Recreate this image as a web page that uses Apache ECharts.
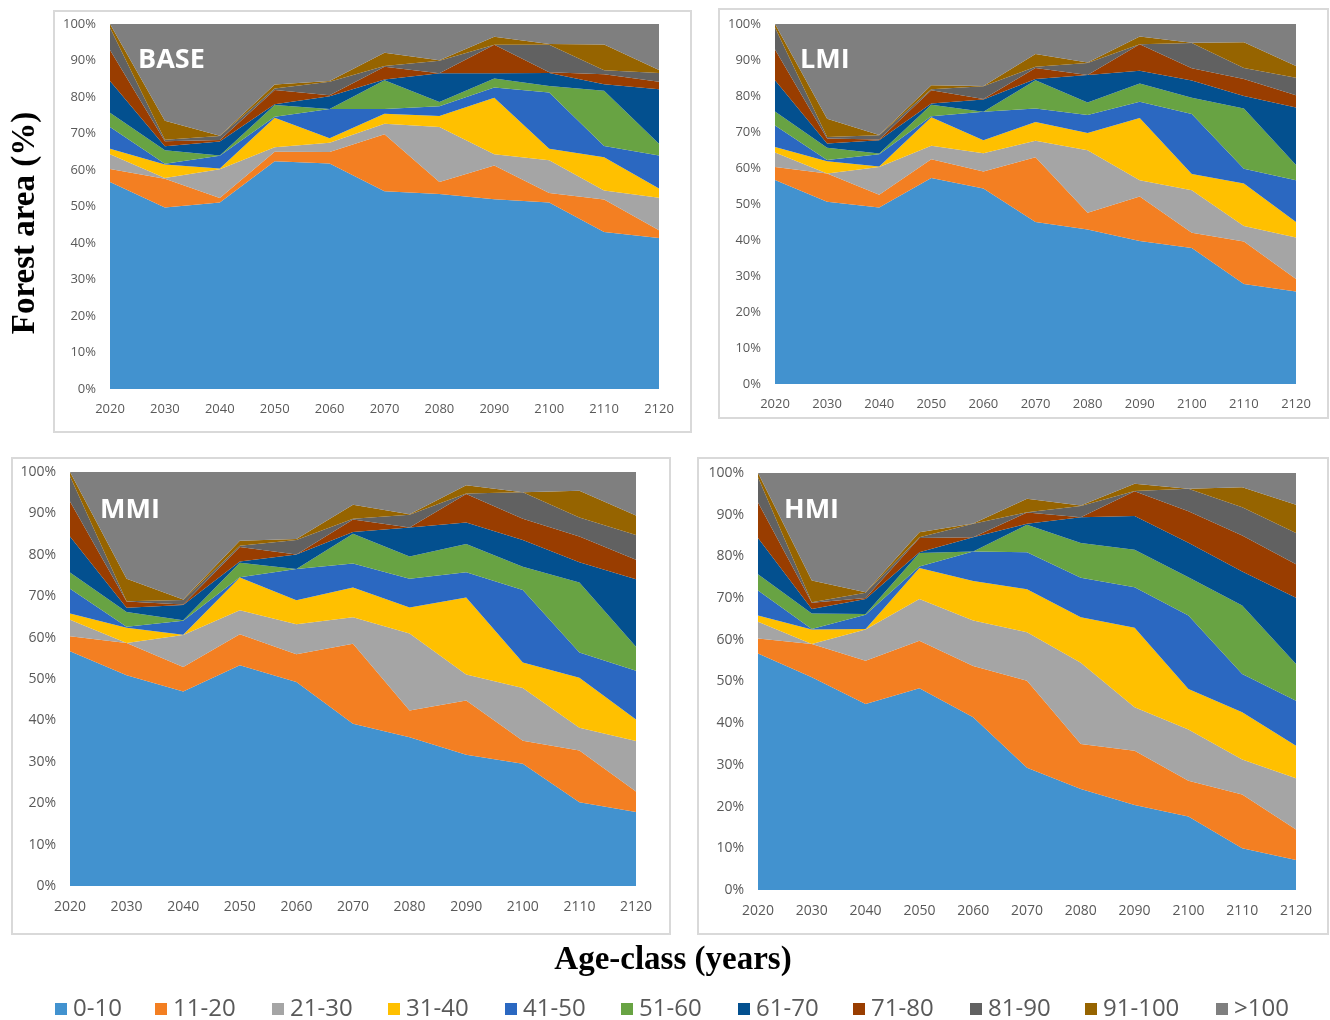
<!DOCTYPE html>
<html>
<head>
<meta charset="utf-8">
<script src="https://cdn.jsdelivr.net/npm/echarts@6/dist/echarts.min.js"></script>
<style>
html,body{margin:0;padding:0;background:#fff;}
#chart{width:1330px;height:1020px;}
</style>
</head>
<body>
<div id="chart"></div>
<script>
// ---------- data ----------
const years = ['2020','2030','2040','2050','2060','2070','2080','2090','2100','2110','2120'];
const classes = ['0-10','11-20','21-30','31-40','41-50','51-60','61-70','71-80','81-90','91-100','>100'];
const scenarios = ['BASE','LMI','MMI','HMI'];
const yTicks = ['0%','10%','20%','30%','40%','50%','60%','70%','80%','90%','100%'];

// share of forest area (%) per age class (rows follow `classes`), per year
const baseData = [
  [56.7, 49.7, 51.1, 62.4, 61.8, 54.2, 53.4, 52.0, 51.1, 43.0, 41.4],
  [3.6, 7.9, 1.2, 2.6, 3.1, 15.6, 3.3, 9.2, 2.6, 8.9, 2.1],
  [4.0, 0.2, 7.9, 1.2, 2.6, 2.9, 15.1, 3.1, 9.0, 2.5, 8.9],
  [1.5, 3.7, 0.2, 8.1, 1.2, 2.7, 3.0, 15.5, 3.1, 9.1, 2.5],
  [6.0, 0.2, 3.5, 0.3, 8.0, 1.3, 2.7, 2.8, 15.4, 3.1, 9.1],
  [3.9, 3.7, 0.1, 3.2, 0.0, 7.9, 1.1, 2.5, 1.8, 15.1, 3.2],
  [8.7, 1.1, 3.8, 0.2, 3.5, 0.2, 7.9, 1.4, 3.6, 1.8, 14.9],
  [8.5, 1.4, 0.4, 3.9, 0.3, 3.5, 0.0, 7.8, 0.2, 2.7, 2.1],
  [6.1, 0.4, 1.1, 0.4, 3.7, 0.2, 3.4, 0.0, 7.5, 1.1, 2.4],
  [1.0, 5.2, 0.1, 1.1, 0.2, 3.6, 0.2, 2.2, 0.2, 7.1, 0.8],
  [0.0, 26.5, 30.6, 16.6, 15.6, 7.9, 9.9, 3.5, 5.5, 5.6, 12.6]
];
const lmiData = [
  [56.7, 50.6, 49.0, 57.2, 54.3, 45.0, 42.9, 39.7, 37.8, 27.8, 25.7],
  [3.6, 7.9, 3.6, 5.2, 4.7, 18.0, 4.7, 12.4, 4.2, 11.8, 3.5],
  [4.0, 0.0, 7.7, 3.8, 5.1, 4.6, 17.3, 4.5, 11.8, 4.3, 11.5],
  [1.5, 3.4, 0.1, 7.9, 3.6, 5.2, 4.8, 17.3, 4.5, 11.8, 4.3],
  [6.0, 0.3, 3.4, 0.3, 7.9, 3.7, 5.0, 4.5, 16.7, 4.1, 11.6],
  [3.9, 3.4, 0.2, 3.2, 0.0, 7.9, 3.5, 5.1, 4.5, 16.7, 4.2],
  [8.7, 1.2, 3.7, 0.3, 3.4, 0.3, 7.6, 3.5, 4.8, 3.5, 16.0],
  [8.5, 1.4, 0.2, 3.7, 0.2, 3.1, 0.0, 7.4, 3.4, 4.7, 3.4],
  [6.1, 0.4, 1.2, 0.3, 3.5, 0.3, 3.4, 0.0, 7.0, 3.1, 4.9],
  [1.0, 5.1, 0.1, 1.1, 0.1, 3.6, 0.1, 2.1, 0.1, 7.1, 3.2],
  [0.0, 26.3, 30.8, 17.0, 17.2, 8.3, 10.7, 3.5, 5.2, 5.1, 11.7]
];
const mmiData = [
  [56.7, 50.9, 47.0, 53.3, 49.3, 39.2, 35.9, 31.7, 29.5, 20.2, 17.9],
  [3.6, 7.8, 5.9, 7.5, 6.7, 19.3, 6.5, 13.1, 5.6, 12.5, 4.9],
  [4.0, 0.0, 7.7, 5.8, 7.2, 6.4, 18.6, 6.3, 12.7, 5.5, 12.2],
  [1.5, 3.7, 0.1, 7.9, 5.8, 7.2, 6.3, 18.6, 6.2, 12.1, 5.2],
  [6.0, 0.2, 3.4, 0.1, 7.6, 5.8, 6.9, 6.1, 17.5, 6.1, 11.8],
  [3.9, 3.6, 0.1, 3.5, 0.0, 7.2, 5.4, 6.8, 5.6, 16.9, 5.8],
  [8.7, 1.0, 3.7, 0.3, 3.5, 0.4, 7.0, 5.2, 6.5, 4.9, 16.3],
  [8.5, 1.5, 0.1, 3.5, 0.0, 3.0, 0.0, 6.9, 5.1, 6.2, 4.7],
  [6.1, 0.1, 1.1, 0.3, 3.5, 0.2, 3.1, 0.1, 6.4, 4.6, 6.0],
  [1.0, 5.4, 0.1, 1.2, 0.2, 3.4, 0.1, 2.0, 0.0, 6.5, 4.7],
  [0.0, 25.8, 30.8, 16.6, 16.2, 7.9, 10.2, 3.2, 4.9, 4.5, 10.5]
];
const hmiData = [
  [56.7, 51.0, 44.6, 48.4, 41.4, 29.3, 24.2, 20.4, 17.6, 10.0, 7.2],
  [3.6, 8.0, 10.4, 11.4, 12.3, 20.9, 10.8, 13.0, 8.6, 12.9, 7.3],
  [4.0, 0.0, 7.5, 10.0, 10.9, 11.6, 19.5, 10.4, 12.3, 8.4, 12.3],
  [1.5, 3.5, 0.1, 7.4, 9.5, 10.3, 10.9, 19.1, 9.7, 11.3, 7.8],
  [6.0, 0.1, 3.4, 0.4, 7.1, 8.9, 9.5, 9.7, 17.6, 9.2, 10.8],
  [3.9, 3.7, 0.2, 3.2, 0.0, 6.6, 8.3, 9.0, 9.2, 16.4, 8.8],
  [8.7, 1.1, 3.6, 0.2, 3.4, 0.2, 6.2, 8.1, 8.3, 8.2, 15.9],
  [8.5, 1.5, 0.2, 3.4, 0.0, 2.7, 0.0, 5.9, 7.5, 8.6, 8.0],
  [6.1, 0.1, 1.3, 0.2, 3.2, 0.1, 2.7, 0.1, 5.4, 6.8, 7.5],
  [1.0, 5.2, 0.1, 1.2, 0.1, 3.2, 0.1, 1.7, 0.0, 4.8, 6.8],
  [0.0, 25.8, 28.6, 14.2, 12.1, 6.2, 7.8, 2.6, 3.8, 3.4, 7.6]
];

// ---------- styles / layout ----------
const colors = ['#4292CF','#F37F22','#A5A5A5','#FFC000','#2B68C1','#68A343','#03508F','#993D00','#616161','#966400','#7F7F7F'];
const panelData = [baseData, lmiData, mmiData, hmiData];
const grids = [
  {left:110, top:24, width:549, height:365},
  {left:775, top:24, width:521, height:360},
  {left:70,  top:472, width:566, height:414},
  {left:758, top:473, width:538, height:417}
];
const frames = [
  {x:54, y:11, width:637, height:421},
  {x:719, y:9, width:609, height:409},
  {x:12, y:458, width:658, height:476},
  {x:698, y:458, width:630, height:476}
];
const titlePos = [[138,60],[800,60],[100,510],[784,510]];
const fontSizes = [13, 13, 14, 14];
const legendX = [50, 150, 267, 383, 500, 616, 733, 848, 965, 1080, 1211];

const xAxes = [], yAxes = [], series = [];
grids.forEach((g, i) => {
  xAxes.push({
    gridIndex: i, type: 'category', data: years, boundaryGap: false,
    axisLine: {show: false}, axisTick: {show: false},
    axisLabel: {color: '#595959', fontSize: fontSizes[i], fontFamily: 'Open Sans', margin: 14, interval: 0}
  });
  yAxes.push({
    gridIndex: i, type: 'value', min: 0, max: 100, interval: 10,
    axisLine: {show: false}, axisTick: {show: false}, splitLine: {show: false},
    axisLabel: {color: '#595959', fontSize: fontSizes[i], fontFamily: 'Open Sans', margin: 14,
      formatter: v => yTicks[Math.round(v / 10)]}
  });
  panelData[i].forEach((row, k) => {
    series.push({
      name: classes[k], type: 'line', stack: 'p' + i,
      xAxisIndex: i, yAxisIndex: i, data: row,
      symbol: 'none', showSymbol: false,
      lineStyle: {width: 0}, areaStyle: {opacity: 1, color: colors[k]},
      itemStyle: {color: colors[k]}, color: colors[k],
      silent: true, z: 2
    });
  });
});

const legends = classes.map((c, k) => ({
  data: [c], left: legendX[k], top: 992, orient: 'horizontal',
  icon: 'rect', itemWidth: 12, itemHeight: 12, itemGap: 6,
  textStyle: {fontSize: 24, color: '#595959', fontFamily: 'Open Sans', padding: [0, 0, 0, 1]},
  selectedMode: false
}));

const graphic = [];
frames.forEach(f => graphic.push({
  type: 'rect', shape: f, style: {fill: 'none', stroke: '#D9D9D9', lineWidth: 2}, silent: true
}));
scenarios.forEach((s, i) => graphic.push({
  type: 'text', x: titlePos[i][0], y: titlePos[i][1], z: 100,
  style: {text: s, fill: '#fff', font: 'bold 27px "Open Sans"', textVerticalAlign: 'middle'}
}));
graphic.push({
  type: 'text', x: 25, y: 223, rotation: Math.PI / 2, z: 100,
  style: {text: 'Forest area (%)', fill: '#000', font: 'bold 33px "Liberation Serif"', textAlign: 'center', textVerticalAlign: 'middle'}
});
graphic.push({
  type: 'text', x: 673, y: 960, z: 100,
  style: {text: 'Age-class (years)', fill: '#000', font: 'bold 33px "Liberation Serif"', textAlign: 'center', textVerticalAlign: 'middle'}
});

const chart = echarts.init(document.getElementById('chart'), null, {renderer: 'canvas'});
chart.setOption({
  animation: false,
  backgroundColor: '#fff',
  grid: grids,
  xAxis: xAxes,
  yAxis: yAxes,
  legend: legends,
  graphic: graphic,
  series: series
});
</script>
</body>
</html>
